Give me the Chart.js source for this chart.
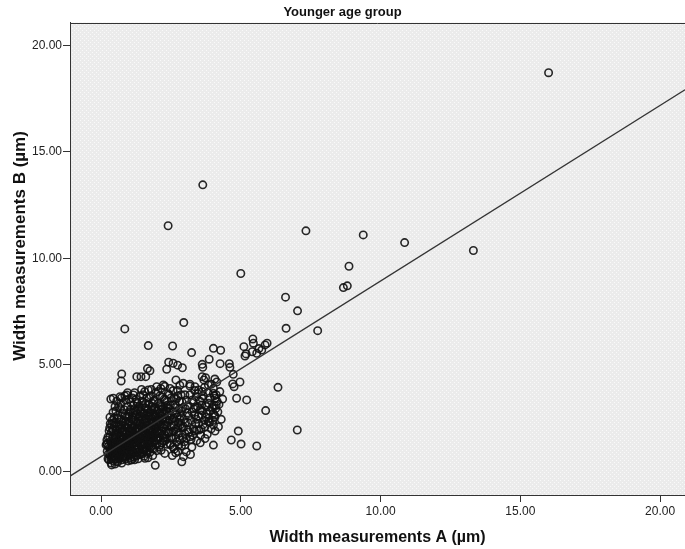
<!DOCTYPE html>
<html>
<head>
<meta charset="utf-8">
<script src="https://cdn.jsdelivr.net/npm/chart.js@4.4.1/dist/chart.umd.min.js"></script>
<style>
  html, body { margin: 0; padding: 0; background: #ffffff; }
  #wrap { width: 685px; height: 549px; }
</style>
</head>
<body>
<div id="wrap"><canvas id="chart" width="685" height="549"></canvas></div>
<script>
// Labels
const chartTitle = 'Younger age group';
const xAxisTitle = 'Width measurements A (µm)';
const yAxisTitle = 'Width measurements B (µm)';

// Axis ticks and ranges
const xTickValues = [0, 5, 10, 15, 20];
const yTickValues = [0, 5, 10, 15, 20];
const xRange = [-1.11, 20.89];
const yRange = [-1.1, 21.06];

// Linear fit line (B = intercept + slope * A)
const fitIntercept = 0.70;
const fitSlope = 0.824;

// Paired measurements [A, B], grouped by A range
const groupA = [
  [0.18,1.25],[0.22,0.95],[0.25,1.62],[0.28,0.55],[0.30,1.10],[0.31,2.05],[0.33,0.78],[0.34,1.42],
  [0.35,3.40],[0.36,0.40],[0.37,1.85],[0.38,0.62],[0.39,1.18],[0.40,2.40],[0.41,0.88],[0.42,1.55],
  [0.43,2.78],[0.44,0.50],[0.45,1.30],[0.46,2.15],[0.47,0.72],[0.48,1.02],[0.49,1.72],[0.50,3.05],
  [0.50,0.35],[0.21,1.48],[0.26,0.82],[0.29,1.90],[0.32,2.55],[0.36,1.05],[0.40,0.68],[0.44,1.92],
  [0.47,2.52],[0.48,0.95],[0.27,1.20],[0.34,0.98],[0.42,1.22],[0.45,0.58],[0.38,2.20],[0.49,1.38],
  [0.22,1.32],[0.25,0.60]
];
const groupB = [
  [0.52,0.85],[0.53,1.60],[0.54,2.30],[0.55,0.60],[0.55,1.15],[0.56,3.30],[0.57,1.95],[0.58,0.75],
  [0.59,1.40],[0.60,2.65],[0.60,0.45],[0.61,1.08],[0.62,1.82],[0.63,3.05],[0.64,0.90],[0.65,1.50],
  [0.66,2.20],[0.67,0.62],[0.68,1.25],[0.69,2.95],[0.70,1.70],[0.70,0.82],[0.71,2.45],[0.72,1.05],
  [0.73,3.45],[0.74,1.35],[0.75,0.55],[0.75,2.05],[0.76,1.88],[0.77,0.98],[0.78,2.72],[0.79,1.55],
  [0.80,0.70],[0.80,1.18],[0.53,2.85],[0.57,0.48],[0.62,1.32],[0.66,0.72],[0.68,1.98],[0.72,1.48],
  [0.74,0.40],[0.78,2.32],[0.58,1.72],[0.64,2.48],[0.70,3.20],[0.76,1.10]
];
const groupC = [
  [0.82,1.62],[0.83,2.90],[0.84,0.88],[0.85,2.15],[0.86,1.30],[0.87,0.58],[0.88,3.35],[0.89,1.82],
  [0.90,1.02],[0.91,2.55],[0.92,0.72],[0.93,1.45],[0.94,2.05],[0.95,3.05],[0.96,1.18],[0.97,0.50],
  [0.98,1.72],[0.99,2.35],[1.00,0.92],[1.01,1.55],[1.02,2.80],[1.03,1.25],[1.04,0.65],[1.05,2.00],
  [1.06,3.25],[1.07,1.40],[1.08,0.85],[1.09,2.45],[1.10,1.90],[0.85,3.55],[0.90,1.60],[0.95,0.80],
  [1.00,2.60],[1.05,1.08],[0.88,2.35],[0.93,1.15],[0.98,1.35],[1.03,1.85],[1.08,1.62],[0.86,0.98],
  [1.10,0.55],[0.96,2.20],[1.00,3.40]
];
const groupD = [
  [1.12,1.30],[1.13,2.55],[1.14,0.95],[1.15,1.78],[1.16,3.10],[1.17,0.68],[1.18,2.12],[1.19,1.50],
  [1.20,2.90],[1.21,1.05],[1.22,1.90],[1.23,0.78],[1.24,2.35],[1.25,1.60],[1.26,3.40],[1.27,1.22],
  [1.28,2.05],[1.29,0.90],[1.30,2.70],[1.31,1.42],[1.32,1.85],[1.33,0.60],[1.34,2.48],[1.35,1.15],
  [1.36,3.05],[1.37,1.70],[1.38,2.22],[1.39,0.98],[1.40,1.55],[1.15,2.75],[1.20,0.55],[1.25,1.02],
  [1.30,3.20],[1.35,2.02],[1.18,1.65],[1.28,1.35],[1.38,2.60],[1.22,2.62],[1.33,1.70]
];
const groupE = [
  [1.42,2.85],[1.43,1.20],[1.44,2.10],[1.45,0.82],[1.46,1.68],[1.47,3.30],[1.48,2.45],[1.49,1.05],
  [1.50,1.90],[1.51,3.60],[1.52,1.45],[1.53,2.25],[1.54,0.72],[1.55,2.72],[1.56,1.60],[1.57,3.00],
  [1.58,1.28],[1.59,2.05],[1.60,0.95],[1.61,2.50],[1.62,1.78],[1.63,3.45],[1.64,1.12],[1.65,2.30],
  [1.66,1.50],[1.67,2.90],[1.68,0.65],[1.69,1.95],[1.70,2.60],[1.45,3.85],[1.50,1.35],[1.55,2.00],
  [1.60,3.20],[1.65,0.85],[1.70,1.65],[1.48,1.70],[1.58,2.30],[1.68,1.30],[1.53,1.00]
];
const groupF = [
  [1.72,3.15],[1.73,1.45],[1.74,2.25],[1.75,0.90],[1.76,2.78],[1.77,1.72],[1.78,3.55],[1.79,1.15],
  [1.80,2.05],[1.81,2.50],[1.82,1.35],[1.83,3.05],[1.84,1.85],[1.85,0.75],[1.86,2.35],[1.87,1.58],
  [1.88,2.95],[1.89,1.05],[1.90,2.15],[1.91,3.35],[1.92,1.70],[1.93,2.62],[1.94,1.25],[1.95,2.00],
  [1.96,3.70],[1.97,1.48],[1.98,2.40],[1.99,0.98],[2.00,2.85],[1.75,1.25],[1.80,1.60],[1.85,2.60],
  [1.90,1.45],[1.95,2.70],[2.00,1.90],[1.78,2.05]
];
const groupG = [
  [2.02,1.55],[2.04,3.20],[2.06,2.30],[2.08,1.15],[2.10,2.75],[2.12,1.82],[2.14,3.90],[2.16,2.08],
  [2.18,1.35],[2.20,2.95],[2.22,2.45],[2.24,1.60],[2.26,3.40],[2.28,0.85],[2.30,2.20],[2.32,1.90],
  [2.34,3.10],[2.36,1.28],[2.38,2.60],[2.40,3.65],[2.05,2.55],[2.15,1.00],[2.25,2.05],[2.35,2.85],
  [2.10,3.55],[2.20,1.70],[2.30,1.45],[2.40,2.30],[2.12,2.35],[2.28,2.70]
];
const groupH = [
  [2.42,1.80],[2.45,2.95],[2.48,1.25],[2.50,3.45],[2.52,2.15],[2.55,1.55],[2.58,3.80],[2.60,2.50],
  [2.62,1.05],[2.65,3.15],[2.68,2.00],[2.70,2.75],[2.72,1.40],[2.75,3.55],[2.78,2.30],[2.80,1.80],
  [2.82,4.05],[2.85,2.60],[2.88,1.20],[2.90,3.25],[2.50,2.65],[2.60,1.90],[2.70,3.40],[2.80,2.95],
  [2.55,0.75],[2.75,0.95],[2.65,2.35]
];
const groupI = [
  [2.95,2.10],[3.00,3.60],[3.05,1.55],[3.08,2.75],[3.12,3.10],[3.15,1.85],[3.18,4.10],[3.22,2.40],
  [3.25,3.35],[3.28,1.70],[3.32,2.95],[3.35,3.80],[3.38,2.25],[3.42,1.45],[3.45,3.05],[3.48,2.60],
  [3.10,2.30],[3.30,2.00],[3.40,3.50],[3.00,1.25],[3.20,0.80],[3.50,1.95],[3.02,2.95],[3.35,2.65]
];
const groupJ = [
  [3.55,2.90],[3.60,3.45],[3.65,2.20],[3.70,3.95],[3.75,2.55],[3.80,1.75],[3.85,3.20],[3.90,2.85],
  [3.95,4.10],[4.00,2.40],[4.05,3.55],[4.10,2.95],[4.15,3.30],[4.20,2.10],[4.25,3.75],[3.72,1.55],
  [3.88,2.30],[4.08,1.90],[3.62,3.75],[4.12,3.10]
];
const groupCore = [
  [0.31,1.62],[0.33,2.25],[0.35,0.58],[0.37,1.32],[0.39,0.92],[0.41,1.98],[0.43,1.12],[0.46,0.82],
  [0.48,2.30],[0.50,1.55],[0.52,1.20],[0.54,0.68],[0.56,1.78],[0.58,2.50],[0.60,1.02],[0.62,0.62],
  [0.63,2.10],[0.65,1.20],[0.67,1.62],[0.69,0.95],[0.71,1.38],[0.73,2.18],[0.75,1.65],[0.77,0.72],
  [0.79,1.95],[0.81,1.38],[0.83,0.65],[0.84,1.90],[0.86,2.62],[0.88,1.15],[0.90,2.05],[0.92,1.30],
  [0.94,0.95],[0.96,1.55],[0.98,2.70],[1.00,1.20],[1.02,1.95],[1.04,1.48],[1.06,0.78],[1.08,2.20],
  [1.10,1.35],[1.12,2.05],[1.14,1.58],[1.16,0.85],[1.18,2.40],[1.20,1.78],[1.22,1.25],[1.24,2.85],
  [1.26,0.72],[1.28,1.62],[1.30,2.25],[1.32,1.05],[1.34,1.95],[1.36,1.45],[1.38,0.80],[1.40,2.35],
  [1.42,1.60],[1.44,2.60],[1.46,1.25],[1.48,2.08],[1.50,2.70],[1.52,0.90],[1.54,1.85],[1.56,2.45],
  [1.58,1.05],[1.60,1.75],[1.62,2.95],[1.64,1.40],[1.66,2.12],[1.68,2.75],[1.70,1.15],[1.72,1.95],
  [1.74,2.60],[1.76,1.35],[1.78,1.82],[1.80,2.90],[1.82,1.62],[1.84,2.25],[1.86,1.10],[1.88,1.95],
  [1.90,2.60],[1.92,2.10],[1.94,3.00],[1.96,1.75],[1.98,2.20],[2.00,1.30],[2.02,2.45],[2.04,1.85],
  [2.06,2.95],[2.08,1.60],[2.10,2.20],[2.12,1.25],[2.14,2.60],[2.16,3.05],[2.18,1.90],[2.20,2.50],
  [2.22,1.45],[2.24,2.20],[2.26,2.90],[2.28,1.70],[2.30,3.35],[2.32,2.45],[2.34,1.55],[2.36,2.15],
  [2.38,3.00],[2.40,1.85],[2.44,2.40],[2.48,3.10],[2.52,1.85],[2.56,2.80],[2.60,2.20],[2.64,3.00],
  [2.68,1.60],[2.72,2.55],[2.76,2.05],[2.80,3.30],[2.84,2.20],[2.88,2.85],[2.92,1.60],[2.96,2.45]
];
const groupUpper = [
  [0.95,3.70],[1.05,2.90],[1.12,3.45],[1.20,3.70],[1.32,2.95],[1.40,3.55],[1.48,3.10],[1.56,3.75],
  [1.64,2.70],[1.72,3.45],[1.80,3.85],[1.88,3.30],[1.96,2.55],[2.04,3.75],[2.12,3.10],[2.20,3.50],
  [2.28,4.00],[2.36,3.30],[2.18,2.75],[1.84,3.20]
];
const groupRight = [
  [2.44,3.60],[2.50,1.60],[2.54,2.45],[2.58,1.15],[2.62,3.45],[2.66,2.70],[2.70,1.85],[2.74,3.80],
  [2.78,1.25],[2.82,2.45],[2.86,3.60],[2.90,2.05],[2.94,3.00],[2.98,1.40],[3.02,2.30],[3.06,3.35],
  [3.10,1.95],[3.14,2.60],[3.18,3.60],[3.22,1.50],[3.26,2.80],[3.30,3.25],[3.34,1.90],[3.38,3.00],
  [3.42,2.45],[3.46,3.65],[3.50,2.25],[3.54,3.30],[3.58,2.00],[3.62,2.85],[3.66,3.55],[3.70,2.40],
  [3.74,3.10],[3.78,2.70],[3.82,3.70],[3.86,2.50],[3.90,3.45],[3.94,2.00],[3.98,3.00],[4.02,3.90],
  [4.06,2.65],[4.12,3.60],[4.18,2.80],[4.22,3.15],[4.30,2.45],[4.35,3.40],[3.25,1.15],[2.95,0.70],
  [3.55,1.35]
];
const clusterEdge = [
  [0.44,3.44],[0.68,3.51],[0.92,3.59],[1.16,3.59],[1.28,3.28],[1.69,3.83],[1.99,3.98],[2.23,4.06],
  [2.47,3.90],[2.68,4.30],[2.94,4.14],[3.18,4.01],[3.36,3.98],[3.49,3.83],[3.84,4.06],[4.02,3.67],
  [4.08,3.44],[4.04,3.12],[4.02,2.73],[4.08,2.57],[3.84,2.34],[3.72,2.10],[4.02,2.18],[3.57,1.71],
  [3.42,1.95],[3.18,1.63],[3.00,1.79],[2.83,1.48],[2.47,1.32],[2.67,0.88],[3.78,3.04],[3.60,3.12],
  [3.60,2.65]
];
const spread = [
  [0.85,6.69],[2.96,6.99],[1.69,5.91],[2.56,5.89],[3.24,5.58],[4.02,5.78],[4.28,5.69],[2.42,5.13],
  [2.58,5.08],[2.74,4.99],[2.91,4.87],[1.66,4.83],[1.75,4.73],[2.35,4.80],[3.87,5.27],[3.62,5.03],
  [3.64,4.89],[4.26,5.06],[4.59,5.06],[4.61,4.89],[0.74,4.58],[0.72,4.25],[1.28,4.45],[1.43,4.45],
  [1.60,4.45],[3.62,4.45],[3.74,4.40],[3.68,4.30],[4.07,4.34],[4.14,4.20],[4.73,4.56],[4.97,4.20],
  [4.71,4.11],[4.76,3.98],[5.43,6.22],[5.45,6.02],[5.11,5.86],[5.19,5.52],[5.15,5.42],[5.41,5.62],
  [5.65,5.77],[5.87,5.94],[5.94,6.02],[5.75,5.70],[5.57,5.55],[6.33,3.95],[4.85,3.44],[5.21,3.36],
  [5.89,2.86],[7.02,1.95],[4.91,1.90],[4.66,1.48],[5.01,1.29],[5.57,1.20],[4.02,1.24],[3.05,0.92],
  [2.89,0.46],[1.94,0.29],[1.57,0.62],[1.06,0.54],[0.38,0.31],[0.21,1.28]
];
const outliers = [
  [16.01,18.71],[13.32,10.37],[10.86,10.74],[9.38,11.10],[7.33,11.29],[3.64,13.45],[2.40,11.53],
  [5.00,9.29],[8.87,9.63],[8.67,8.63],[8.81,8.71],[6.60,8.18],[7.03,7.54],[6.62,6.72],[7.75,6.61]
];

const allPairs = [].concat(groupA, groupB, groupC, groupD, groupE, groupF, groupG, groupH,
  groupI, groupJ, groupCore, groupUpper, groupRight, clusterEdge, spread, outliers);
const scatterData = allPairs.map(p => ({ x: p[0], y: p[1] }));
const fitData = xRange.map(a => ({ x: a, y: fitIntercept + fitSlope * a }));

// Dotted light-grey plot background with a frame on top
function makeTexture(ctx) {
  const tile = document.createElement('canvas');
  tile.width = 4; tile.height = 4;
  const t = tile.getContext('2d');
  t.fillStyle = '#ebebeb';
  t.fillRect(0, 0, 4, 4);
  t.fillStyle = '#f9f9f9';
  t.fillRect(0, 0, 1, 1);
  t.fillRect(2, 2, 1, 1);
  return ctx.createPattern(tile, 'repeat');
}

const plotFrame = {
  id: 'plotFrame',
  beforeDraw(chart) {
    const { ctx, chartArea: a } = chart;
    ctx.save();
    ctx.fillStyle = makeTexture(ctx);
    ctx.fillRect(a.left, a.top, a.right - a.left, a.bottom - a.top);
    ctx.restore();
  },
  afterDraw(chart) {
    const { ctx, chartArea: a } = chart;
    ctx.save();
    ctx.strokeStyle = '#333';
    ctx.lineWidth = 1;
    ctx.beginPath();
    ctx.moveTo(a.left, Math.round(a.top) + 0.5);
    ctx.lineTo(a.right, Math.round(a.top) + 0.5);
    ctx.stroke();
    // vertical axis title, set a little above the axis midpoint
    ctx.fillStyle = '#111';
    ctx.font = "bold 17px 'Liberation Sans', Arial, sans-serif";
    ctx.textAlign = 'center';
    ctx.textBaseline = 'middle';
    ctx.translate(20, 246);
    ctx.rotate(-Math.PI / 2);
    ctx.fillText(yAxisTitle, 0, 0);
    ctx.restore();
  }
};

Chart.defaults.font.family = "'Liberation Sans', Arial, sans-serif";

new Chart(document.getElementById('chart'), {
  type: 'scatter',
  data: {
    datasets: [
      {
        type: 'line',
        data: fitData,
        borderColor: '#333333',
        borderWidth: 1.3,
        pointRadius: 0,
        fill: false,
        order: 1
      },
      {
        data: scatterData,
        pointStyle: 'circle',
        pointRadius: 3.7,
        pointBorderWidth: 1.6,
        pointBorderColor: 'rgba(17,17,17,0.9)',
        pointBackgroundColor: 'rgba(0,0,0,0)',
        order: 2
      }
    ]
  },
  plugins: [plotFrame],
  options: {
    responsive: false,
    animation: false,
    devicePixelRatio: 1,
    layout: { padding: 0, autoPadding: false },
    plugins: {
      legend: { display: false },
      tooltip: { enabled: false },
      title: {
        display: true,
        text: chartTitle,
        color: '#111',
        font: { size: 13, weight: 'bold' },
        padding: { top: 5, bottom: 2 }
      }
    },
    scales: {
      x: {
        type: 'linear',
        min: xRange[0],
        max: xRange[1],
        afterBuildTicks: s => { s.ticks = xTickValues.map(v => ({ value: v })); },
        afterFit: s => { s.height = 54; },
        ticks: {
          callback: v => Number(v).toFixed(2),
          color: '#222',
          font: { size: 12 },
          padding: 2,
          maxRotation: 0,
          autoSkip: false
        },
        grid: { drawOnChartArea: false, drawTicks: true, tickLength: 7, color: '#333', lineWidth: 1 },
        border: { display: true, color: '#333', width: 1 },
        title: {
          display: true,
          text: xAxisTitle,
          color: '#111',
          font: { size: 16, weight: 'bold' },
          padding: { top: 0, bottom: 2 }
        }
      },
      y: {
        type: 'linear',
        min: yRange[0],
        max: yRange[1],
        afterBuildTicks: s => { s.ticks = yTickValues.map(v => ({ value: v })); },
        afterFit: s => { s.width = 70; },
        ticks: {
          callback: v => Number(v).toFixed(2),
          color: '#222',
          font: { size: 12 },
          padding: 1,
          autoSkip: false
        },
        grid: { drawOnChartArea: false, drawTicks: true, tickLength: 7, color: '#333', lineWidth: 1 },
        border: { display: true, color: '#333', width: 1 },
        title: { display: false }
      }
    }
  }
});
</script>
</body>
</html>
